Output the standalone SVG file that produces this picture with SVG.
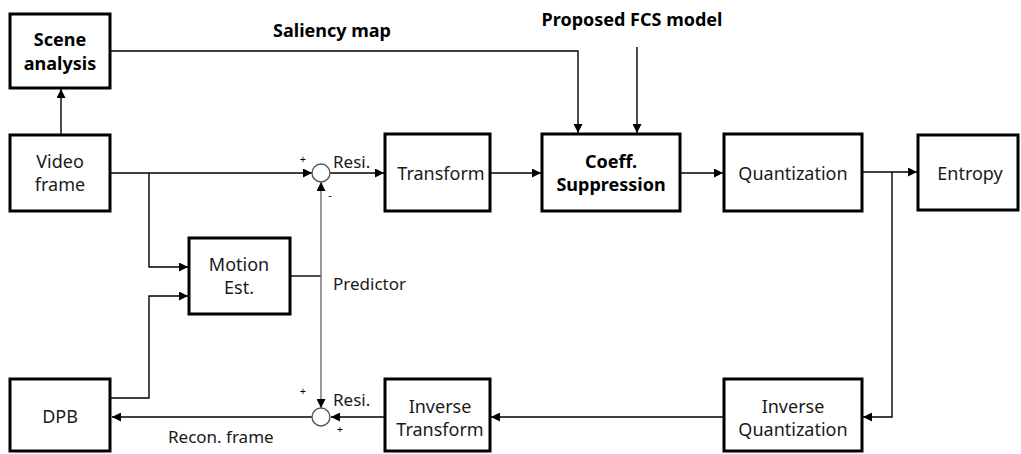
<svg xmlns="http://www.w3.org/2000/svg" width="1021" height="454" viewBox="0 0 1021 454">
  <style>
    .box { fill: #fff; stroke: #000; stroke-width: 3; }
    .lbl { font-family: "Noto Sans", "Open Sans", sans-serif; font-size: 18px; fill: #1a1a1a; text-anchor: middle; }
    .bold { font-weight: bold; fill: #000; }
    .small { font-family: "Noto Sans", "Open Sans", sans-serif; font-size: 17px; fill: #1a1a1a; }
    .sign { font-family: "Noto Sans", sans-serif; font-size: 11px; fill: #000; text-anchor: middle; }
    .wire { fill: none; stroke: #000; stroke-width: 1.4; }
    .gray { stroke: #6e6e6e; }
    .sum { fill: #fff; stroke: #555; stroke-width: 1.4; }
  </style>
  <defs>
    <marker id="arrow" viewBox="0 0 10 10" refX="10" refY="5" markerWidth="9" markerHeight="9" markerUnits="userSpaceOnUse" orient="auto">
      <path d="M0,0 L10,5 L0,10 z" fill="#000"/>
    </marker>
  </defs>

  <!-- connectors -->
  <g id="connectors">
    <!-- video frame to scene analysis -->
    <path class="wire" d="M61,134 V89" marker-end="url(#arrow)"/>
    <!-- saliency map to coefficient suppression -->
    <path class="wire" d="M111,51 H578 V133" marker-end="url(#arrow)"/>
    <!-- proposed model input -->
    <path class="wire" d="M637,47 V133" marker-end="url(#arrow)"/>
    <!-- video frame to subtractor -->
    <path class="wire" d="M111,173 H312" marker-end="url(#arrow)"/>
    <!-- video frame to motion estimation -->
    <path class="wire" d="M149,173 V267 H188" marker-end="url(#arrow)"/>
    <!-- DPB to motion estimation -->
    <path class="wire" d="M111,398 H149 V296 H188" marker-end="url(#arrow)"/>
    <!-- motion estimation output -->
    <path class="wire" d="M290,276 H321"/>
    <!-- predictor to both summing points -->
    <path class="wire gray" d="M321,276 V182" marker-end="url(#arrow)"/>
    <path class="wire gray" d="M321,276 V408" marker-end="url(#arrow)"/>
    <!-- forward path -->
    <path class="wire" d="M330,173 H384" marker-end="url(#arrow)"/>
    <path class="wire" d="M490,173 H541" marker-end="url(#arrow)"/>
    <path class="wire" d="M680,173 H723" marker-end="url(#arrow)"/>
    <path class="wire" d="M862,172 H917" marker-end="url(#arrow)"/>
    <!-- reconstruction loop -->
    <path class="wire" d="M892,172 V417 H863" marker-end="url(#arrow)"/>
    <path class="wire" d="M724,417 H491" marker-end="url(#arrow)"/>
    <path class="wire" d="M385,417 H331" marker-end="url(#arrow)"/>
    <path class="wire" d="M312,417 H112" marker-end="url(#arrow)"/>
  </g>

  <!-- connector labels -->
  <g id="labels">
    <text class="lbl bold" x="332" y="37" font-size="16">Saliency map</text>
    <text class="lbl bold" x="632" y="26" font-size="16">Proposed FCS model</text>
    <text class="small" x="333" y="168">Resi.</text>
    <text class="small" x="333" y="290">Predictor</text>
    <text class="small" x="333" y="406">Resi.</text>
    <text class="small" x="168" y="443">Recon. frame</text>
    <text class="sign" x="303" y="163">+</text>
    <text class="sign" x="330" y="199">-</text>
    <text class="sign" x="303" y="395">+</text>
    <text class="sign" x="340" y="433">+</text>
  </g>

  <g id="sum-top"><circle class="sum" cx="321" cy="173" r="9"/></g>
  <g id="sum-bottom"><circle class="sum" cx="321" cy="417" r="9"/></g>

  <g id="scene-analysis">
    <rect class="box" x="10" y="14" width="100" height="74"/>
    <text class="lbl bold" x="60" y="46">Scene</text>
    <text class="lbl bold" x="60" y="70">analysis</text>
  </g>
  <g id="video-frame">
    <rect class="box" x="10" y="135" width="100" height="76"/>
    <text class="lbl" x="60" y="168">Video</text>
    <text class="lbl" x="60" y="191">frame</text>
  </g>
  <g id="motion-est">
    <rect class="box" x="189" y="238" width="101" height="76"/>
    <text class="lbl" x="239" y="271">Motion</text>
    <text class="lbl" x="239" y="294">Est.</text>
  </g>
  <g id="dpb">
    <rect class="box" x="10" y="379" width="100" height="72"/>
    <text class="lbl" x="60" y="423">DPB</text>
  </g>
  <g id="transform">
    <rect class="box" x="385" y="134" width="105" height="77"/>
    <text class="lbl" x="441" y="180">Transform</text>
  </g>
  <g id="coeff-suppression">
    <rect class="box" x="542" y="134" width="138" height="77"/>
    <text class="lbl bold" x="611" y="168">Coeff.</text>
    <text class="lbl bold" x="611" y="191">Suppression</text>
  </g>
  <g id="quantization">
    <rect class="box" x="724" y="134" width="138" height="77"/>
    <text class="lbl" x="793" y="180">Quantization</text>
  </g>
  <g id="entropy">
    <rect class="box" x="918" y="135" width="100" height="75"/>
    <text class="lbl" x="970" y="180">Entropy</text>
  </g>
  <g id="inverse-transform">
    <rect class="box" x="385" y="379" width="105" height="72"/>
    <text class="lbl" x="440" y="413">Inverse</text>
    <text class="lbl" x="440" y="436">Transform</text>
  </g>
  <g id="inverse-quantization">
    <rect class="box" x="724" y="379" width="138" height="72"/>
    <text class="lbl" x="793" y="413">Inverse</text>
    <text class="lbl" x="793" y="436">Quantization</text>
  </g>
</svg>
